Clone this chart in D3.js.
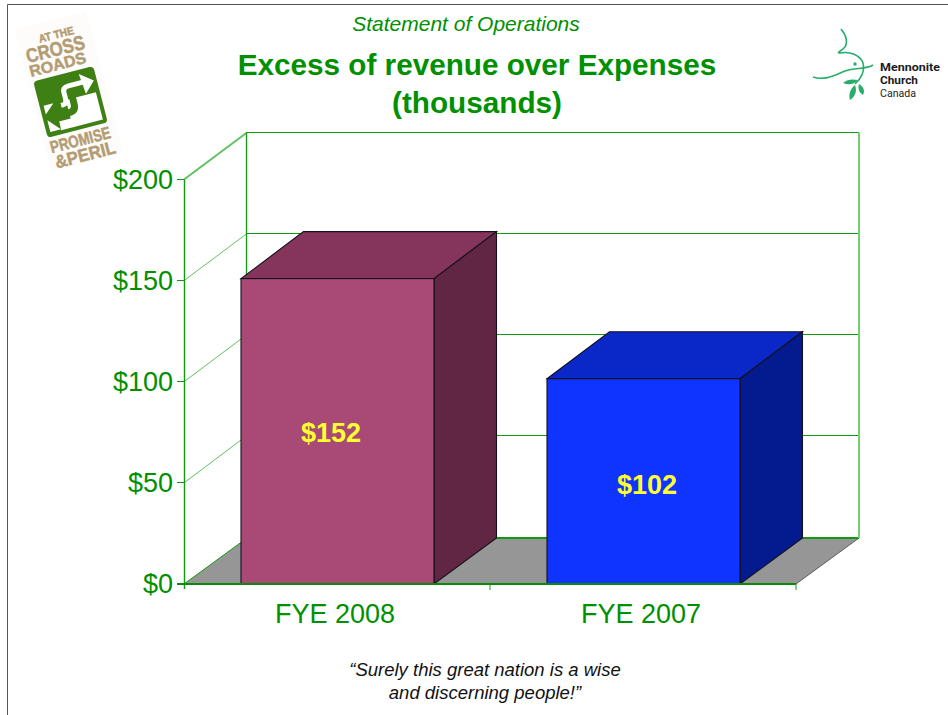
<!DOCTYPE html>
<html><head><meta charset="utf-8">
<script src="https://cdn.jsdelivr.net/npm/d3@7"></script>
<style>html,body{margin:0;padding:0;background:#fff}svg{display:block}text{font-family:"Liberation Sans",Arial,sans-serif}</style>
</head><body><svg id="c" width="948" height="715"></svg>
<script>
const categories = ["FYE 2008", "FYE 2007"];
const plottedValues = [151, 101.5];
const valueLabels = ["$152", "$102"];
const tickValues = [0, 50, 100, 150, 200];
const faceColors = ["#A94A76", "#1034FF"];
const topColors = ["#85345C", "#0A28C8"];
const sideColors = ["#602644", "#041B8F"];
const titleLines = ["Excess of revenue over Expenses", "(thousands)"];
const subtitle = "Statement of Operations";
const quoteLines = ["“Surely this great nation is a wise", "and discerning people!”"];

const svg = d3.select("#c");
const green = "#009000", lineGreen = "#119A11", softGreen = "#62C262", paleGreen = "#72D072";
const dx = 63, wallDy = -47.5, floorDy = -46;
const x = d3.scaleBand().domain(categories).range([184, 796]);
const y = d3.scaleLinear().domain([0, 200]).range([584, 179.5]);
const poly = pts => pts.map(p => p.join(",")).join(" ");

// page border
svg.append("path").attr("d", "M7.5,715V4.5H948").attr("fill", "none").attr("stroke", "#555").attr("stroke-width", 1);

// headings
svg.append("text").attr("x", 466).attr("y", 31).attr("text-anchor", "middle").attr("font-size", 21).attr("font-style", "italic").attr("fill", green).text(subtitle);
svg.selectAll(".tt").data(titleLines).join("text").attr("x", 477).attr("y", (d, i) => 75 + i * 38).attr("text-anchor", "middle").attr("font-size", 29.7).attr("font-weight", "bold").attr("fill", green).text(d => d);

const [x0, x1] = x.range();
const backY = v => Math.floor(y(v) + wallDy) + 0.5;
const floorBack = y(0) + floorDy;

// floor
svg.append("polygon").attr("points", poly([[x0, y(0)], [x1, y(0)], [x1 + dx, floorBack], [x0 + dx, floorBack]])).attr("fill", "#969696");
svg.append("line").attr("x1", x1).attr("y1", y(0)).attr("x2", x1 + dx).attr("y2", floorBack).attr("stroke", "#444").attr("stroke-width", 0.8);

// walls and gridlines
const wallTop = backY(200);
const g = svg.append("g").attr("fill", "none");
tickValues.filter(v => v > 0).forEach(v => {
  g.append("line").attr("x1", x0).attr("y1", y(v)).attr("x2", x0 + dx).attr("y2", backY(v)).attr("stroke", softGreen).attr("stroke-width", v === 200 ? 2 : 1);
  g.append("line").attr("x1", x0 + dx).attr("y1", backY(v)).attr("x2", x1 + dx).attr("y2", backY(v)).attr("stroke", lineGreen);
});
g.append("line").attr("x1", x0).attr("y1", y(0)).attr("x2", x0 + dx).attr("y2", floorBack).attr("stroke", lineGreen);
g.append("line").attr("x1", x0 + dx).attr("y1", floorBack).attr("x2", x1 + dx).attr("y2", floorBack).attr("stroke", lineGreen).attr("stroke-width", 2);
g.append("line").attr("x1", x0 + dx - 0.5).attr("x2", x0 + dx - 0.5).attr("y1", wallTop).attr("y2", floorBack).attr("stroke", lineGreen).attr("stroke-width", 1.3);
g.append("line").attr("x1", x1 + dx).attr("x2", x1 + dx).attr("y1", wallTop).attr("y2", floorBack).attr("stroke", paleGreen).attr("stroke-width", 2);
g.append("line").attr("x1", x0 + 0.5).attr("x2", x0 + 0.5).attr("y1", y(200)).attr("y2", y(0) + 5).attr("stroke", lineGreen).attr("stroke-width", 1.4);
tickValues.forEach(v => g.append("line").attr("x1", x0 - 7).attr("x2", x0).attr("y1", Math.floor(y(v)) + 0.5).attr("y2", Math.floor(y(v)) + 0.5).attr("stroke", lineGreen));
svg.selectAll(".yl").data(tickValues).join("text").attr("x", 173).attr("y", d => y(d) + 9).attr("text-anchor", "end").attr("font-size", 27).attr("fill", green).text(d => "$" + d);

// bars
const inset = 57, barW = 193, barDx = 62.5, barDy = -47;
const labelShift = [-6.5, 3.5], labelDrop = [11, 12.5];
categories.forEach((c, i) => {
  const bx = x(c) + inset, top = y(plottedValues[i]), base = y(0);
  const k = svg.append("g").attr("stroke", "#15101c").attr("stroke-width", 1.1);
  k.append("polygon").attr("points", poly([[bx, top], [bx + barDx, top + barDy], [bx + barW + barDx, top + barDy], [bx + barW, top]])).attr("fill", topColors[i]);
  k.append("polygon").attr("points", poly([[bx + barW, top], [bx + barW + barDx, top + barDy], [bx + barW + barDx, base + floorDy], [bx + barW, base]])).attr("fill", sideColors[i]);
  k.append("rect").attr("x", bx).attr("y", top).attr("width", barW).attr("height", base - top).attr("fill", faceColors[i]);
  svg.append("text").attr("x", bx + barW / 2 + labelShift[i]).attr("y", (top + base) / 2 + labelDrop[i]).attr("text-anchor", "middle").attr("font-size", 27).attr("font-weight", "bold").attr("fill", "#FFFF33").text(valueLabels[i]);
});

// base axis
svg.append("line").attr("x1", x0 - 7).attr("x2", x1).attr("y1", y(0)).attr("y2", y(0)).attr("stroke", "#0A8A0A").attr("stroke-width", 2);
[x1, x0 + (x1 - x0) / 2].forEach(t => svg.append("line").attr("x1", t).attr("x2", t).attr("y1", y(0)).attr("y2", y(0) + 6).attr("stroke", lineGreen));
svg.selectAll(".xl").data(categories).join("text").attr("x", (d, i) => [335, 641][i]).attr("y", 623).attr("text-anchor", "middle").attr("font-size", 27).attr("fill", green).text(d => d);

// quote
svg.selectAll(".q").data(quoteLines).join("text").attr("x", 485).attr("y", (d, i) => 676 + i * 23).attr("text-anchor", "middle").attr("font-size", 18.5).attr("font-style", "italic").attr("fill", "#111").text(d => d);

// left logo
const tan = "#B39C73", logoGreen = "#3F8014";
const lg = svg.append("g").attr("transform", "rotate(-14.5 70 100)");
lg.append("rect").attr("x", 34).attr("y", 18).attr("width", 74).attr("height", 147).attr("fill", "#FDFCFA");
[["AT THE", 73, 37, 11, 36], ["CROSS", 68.5, 54, 20, 60], ["ROADS", 67, 68, 16, 58], ["PROMISE", 70, 147, 17, 62], ["&PERIL", 71, 163, 18, 62]].forEach(([t, xx, yy, fs, w]) => {
  lg.append("text").attr("x", xx).attr("y", yy).attr("text-anchor", "middle").attr("font-size", fs).attr("font-weight", "bold").attr("fill", tan).attr("stroke", tan).attr("stroke-width", 0.5).attr("textLength", w).attr("lengthAdjust", "spacingAndGlyphs").text(t);
});
lg.append("rect").attr("x", 39).attr("y", 73).attr("width", 62).attr("height", 58).attr("rx", 4).attr("fill", logoGreen);
lg.append("rect").attr("x", 66).attr("y", 99).attr("width", 31).attr("height", 28).attr("fill", "#fff");
lg.append("polygon").attr("points", "43,99 53,99 43,108").attr("fill", "#fff");
lg.append("polygon").attr("points", "43,114 54,126 43,126").attr("fill", "#fff");
lg.append("rect").attr("x", 54).attr("y", 118).attr("width", 14).attr("height", 9).attr("fill", "#fff");
lg.append("path").attr("d", "M60,103H62Q66,103 66,97V91Q66,86 72,86H88").attr("fill", "none").attr("stroke", "#fff").attr("stroke-width", 5);
lg.append("polygon").attr("points", "85,77 98,87 87,98").attr("fill", "#fff");
lg.append("path").attr("d", "M52,112H66Q73,112 73,105V97").attr("fill", "none").attr("stroke", logoGreen).attr("stroke-width", 7);
lg.append("polygon").attr("points", "45,111 54,101 54,124").attr("fill", logoGreen);

// right logo
const dove = "#27AE6B";
const rg = svg.append("g").attr("fill", "none").attr("stroke", dove).attr("stroke-width", 1.6);
rg.append("path").attr("d", "M841,29C847,36 848,44 844,48C841,51 836,53 840,53C850,51 860,55 863,63C865,71 861,79 855,84");
rg.append("path").attr("d", "M813,77C825,81 835,75 845,71C855,67 866,70 873,65");
svg.append("circle").attr("cx", 855).attr("cy", 64).attr("r", 1.7).attr("fill", dove);
svg.append("path").attr("d", "M843,83C847,79 853,79 858,80C854,85 848,85 843,83Z").attr("fill", dove);
svg.append("path").attr("d", "M850,100C848,94 851,88 855,85C857,90 856,96 850,100Z").attr("fill", dove);
svg.append("path").attr("d", "M863,95C858,92 858,87 859,84C864,87 865,91 863,95Z").attr("fill", dove);
[["Mennonite", 71, "bold", 60], ["Church", 83.5, "bold", 38], ["Canada", 96.5, "normal", 36]].forEach(([t, yy, w, len]) => {
  svg.append("text").attr("x", 880).attr("y", yy).attr("font-size", 11).attr("font-weight", w).attr("fill", "#1c1c1c").attr("textLength", len).attr("lengthAdjust", "spacingAndGlyphs").style("font-family", "Roboto,sans-serif").text(t);
});
</script></body></html>
